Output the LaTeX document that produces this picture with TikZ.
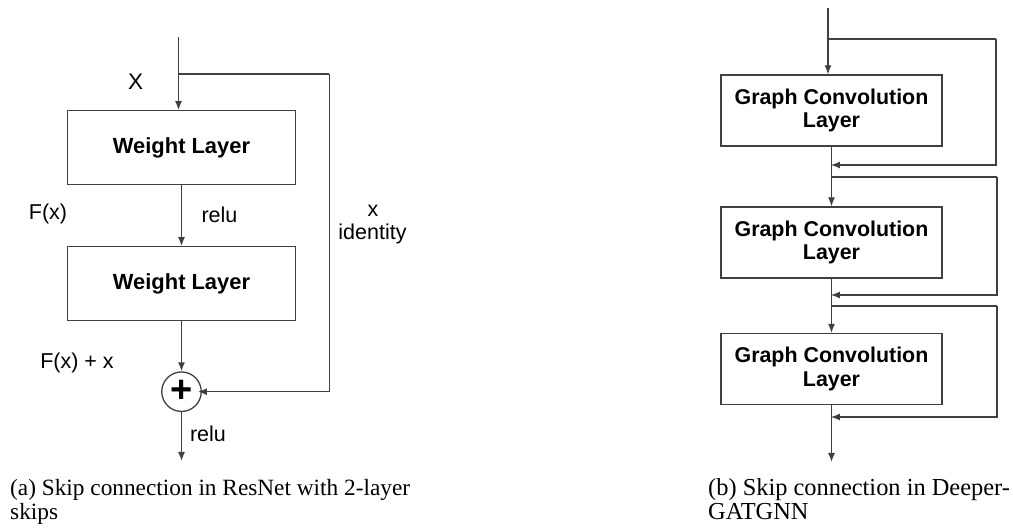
\documentclass[tikz,border=0pt]{standalone}
\usepackage{fontspec}
\setmainfont{Liberation Serif}
\setsansfont{Liberation Sans}
\usetikzlibrary{arrows.meta}
\definecolor{linegray}{RGB}{64,64,64}

\begin{document}
\begin{tikzpicture}[x=1pt,y=-1pt,
	flow/.style={draw=linegray,line width=1.3pt,-{Latex[length=9pt,width=7pt]}},
	wire/.style={draw=linegray,line width=1.3pt},
	layer/.style={draw=linegray,line width=1.3pt,inner sep=0pt,align=center},
	weightbox/.style={layer,minimum width=227.6pt,minimum height=73.6pt,font=\sffamily\bfseries\fontsize{21.9}{23}\selectfont},
	convbox/.style={layer,minimum width=221pt,minimum height=71pt,font=\sffamily\bfseries\fontsize{21.4}{23.5}\selectfont},
	sumnode/.style={circle,draw=linegray,line width=1.3pt,minimum size=39.5pt,inner sep=0pt,font=\sffamily\bfseries\fontsize{38}{38}\selectfont},
	lbl/.style={inner sep=0pt,anchor=base,font=\sffamily\fontsize{21.5}{21.5}\selectfont},
	capt/.style={inner sep=0pt,anchor=base west,align=left}]
	\useasboundingbox (0,0) rectangle (1013,529);

	% (a) ResNet block
	\coordinate (inA) at (178.5,37);
	\node[weightbox] (wl1) at (181.5,147.5) {Weight Layer};
	\node[weightbox] (wl2) at (181.5,283.5) {Weight Layer};
	\node[sumnode] (plus) at (181.5,391.7) {+};
	\coordinate (brA) at (329.3,74);
	\coordinate (outA) at (181.5,461);
	\draw[flow] (inA) -- (inA |- wl1.north);
	\draw[flow] (wl1) -- (wl2);
	\draw[flow] (wl2) -- (plus);
	\draw[flow] (plus) -- (outA);
	\draw[wire] (inA |- brA) -- (brA);
	\draw[flow,shorten >=-4pt] (brA) |- (plus);
	\node[lbl,font=\sffamily\fontsize{22.5}{22.5}\selectfont] (lx) at (135.7,89.3) {X};
	\node[lbl] (lfx) at (48,220) {F(x)};
	\node[lbl] (lrelu1) at (219.5,222.3) {relu};
	\node[lbl] (lidx) at (373,217) {x};
	\node[lbl] (lid) at (372.5,239.5) {identity};
	\node[lbl] (lsum) at (77,368.3) {F(x) + x};
	\node[lbl] (lrelu2) at (208,442) {relu};
	\node[capt,font=\fontsize{23.3}{24.5}\selectfont] (capa) at (10,519.5) {(a) Skip connection in ResNet with 2-layer\\skips};

	% (b) DeeperGATGNN block
	\coordinate (inB) at (828,8);
	\node[convbox] (gc1) at (831.5,110.5) {Graph Convolution\\Layer};
	\node[convbox] (gc2) at (831.5,242.5) {Graph Convolution\\Layer};
	\node[convbox] (gc3) at (831.5,369) {Graph Convolution\\Layer};
	\coordinate (outB) at (831.5,462);
	\draw[flow] (inB) -- (inB |- gc1.north);
	\draw[flow] (gc1) -- (gc2);
	\draw[flow] (gc2) -- (gc3);
	\draw[flow] (gc3) -- (outB);
	\coordinate (r1) at (996,39);
	\coordinate (m1) at (831.5,165);
	\coordinate (r2) at (997,177);
	\coordinate (m2) at (831.5,295);
	\coordinate (r3) at (997,306);
	\coordinate (m3) at (831.5,417);
	\draw[wire] (inB |- r1) -- (r1);
	\draw[flow,shorten >=-0.6pt] (r1) |- (m1);
	\draw[wire] (gc1 |- r2) -- (r2);
	\draw[flow,shorten >=-0.6pt] (r2) |- (m2);
	\draw[wire] (gc2 |- r3) -- (r3);
	\draw[flow,shorten >=-0.6pt] (r3) |- (m3);
	\node[capt,font=\fontsize{24.4}{24.5}\selectfont] (capb) at (708,519.5) {(b) Skip connection in Deeper-\\GATGNN};
\end{tikzpicture}
\end{document}
